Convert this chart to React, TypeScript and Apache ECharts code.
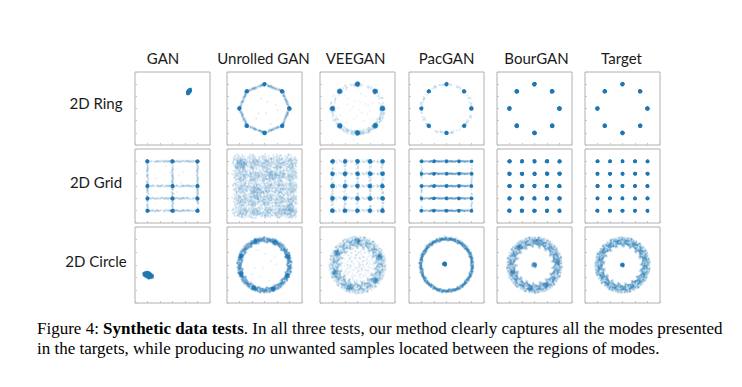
import React, { useEffect, useRef } from "react";
import * as echarts from "echarts";

// ---------- data ----------
const COLUMNS = ["GAN", "Unrolled GAN", "VEEGAN", "PacGAN", "BourGAN", "Target"];
const ROWS = ["2D Ring", "2D Grid", "2D Circle"];
const RING_ANGLES = [0, 45, 90, 135, 180, 225, 270, 315];
const GRID_LEVELS = [-1, -0.5, 0, 0.5, 1];
const GAN_GRID_COLS = [-1, 0, 1];
const GAN_GRID_ROWS = [1, 0, -0.5, -1];
const CIRCLE_ANGLES = [0, 5, 10, 15, 20, 25, 30, 35, 40, 45, 50, 55, 60, 65, 70, 75, 80, 85, 90, 95, 100, 105, 110, 115, 120, 125, 130, 135, 140, 145, 150, 155, 160, 165, 170, 175, 180, 185, 190, 195, 200, 205, 210, 215, 220, 225, 230, 235, 240, 245, 250, 255, 260, 265, 270, 275, 280, 285, 290, 295, 300, 305, 310, 315, 320, 325, 330, 335, 340, 345, 350, 355];
const VEEGAN_ARC_COUNTS = [16, 12, 12, 10, 20, 40, 48, 40];
const UNROLLED_CLUMPS = [20, 65, 110, 160, 200, 245, 290, 335];
const VEEGAN_CLUMPS = [90, 150, 200, 250, 320, 20];
const BOUR_CLUMPS = [80, 130, 200, 260, 300, 10];
// hand-typed sample offsets (unit square)
const JITTER: number[][] = [
  [0.12, -0.48], [-0.83, 0.31], [0.45, 0.92], [-0.27, -0.66], [0.71, 0.05], [-0.55, -0.18], [0.03, 0.61], [0.94, -0.37],
  [-0.39, 0.84], [0.26, -0.91], [-0.72, -0.52], [0.58, 0.43], [-0.08, -0.15], [0.37, 0.22], [-0.96, 0.02], [0.81, -0.74],
  [-0.14, 0.39], [0.49, -0.29], [-0.61, 0.67], [0.18, 0.76], [-0.33, -0.97], [0.67, -0.58], [-0.87, -0.34], [0.09, -0.07],
  [0.53, 0.14], [-0.46, 0.51], [0.31, -0.63], [-0.21, 0.08], [0.88, 0.57], [-0.69, -0.82], [0.15, 0.33], [-0.04, -0.41],
  [0.62, -0.12], [-0.51, 0.19], [0.22, -0.23], [-0.77, 0.71], [0.41, 0.64], [-0.19, -0.53], [0.76, 0.27], [-0.35, -0.09],
  [0.05, 0.97], [-0.58, -0.72], [0.97, -0.19], [-0.11, 0.55], [0.34, -0.85], [-0.91, -0.6], [0.59, 0.81], [-0.42, 0.36],
  [0.19, 0.03], [-0.66, -0.27], [0.44, -0.44], [-0.25, 0.9], [0.83, 0.39], [-0.02, -0.78], [0.28, 0.47], [-0.8, 0.12],
  [0.07, -0.31], [-0.48, -0.42], [0.65, 0.7], [-0.3, 0.26], [0.39, -0.02], [-0.16, -0.25], [0.73, -0.88], [-0.62, 0.45],
];

// ---------- layout ----------
const COL_LEFT = [135, 227, 320, 409, 497, 585];
const PANEL_W = 75;
const ROW_TOP = [72, 149, 227];
const PANEL_H = [73, 74, 76];
const HEADER_X = [163, 263.5, 355.5, 446.5, 536.5, 621.5];
const ROW_LABEL_Y = [103, 182, 261];
const BLUE = "#1f77b4";

type Pt = number[];
const DISC = JITTER.filter(([a, b]) => a * a + b * b <= 1);
const rad = (d: number) => (d * Math.PI) / 180;

function blob(cx: number, cy: number, sx: number, sy: number, n: number, off = 0, rot = 0): Pt[] {
  const out: Pt[] = [];
  const c = Math.cos(rad(rot)), s = Math.sin(rad(rot));
  const L = DISC.length;
  for (let i = 0; i < Math.min(n, L); i++) {
    const [a, b] = DISC[(off + i) % L];
    const u = a * sx, v = b * sy;
    out.push([cx + u * c - v * s, cy + u * s + v * c]);
  }
  return out;
}
function seg(p: Pt, q: Pt, n: number, spread: number, off = 0): Pt[] {
  const out: Pt[] = [];
  const dx = q[0] - p[0], dy = q[1] - p[1];
  const len = Math.hypot(dx, dy) || 1;
  const nx = -dy / len, ny = dx / len;
  for (let i = 0; i < Math.min(n, 64); i++) {
    const [a, b] = JITTER[(off + i * 5) % 64];
    const t = (a + 1) / 2;
    out.push([p[0] + t * dx + nx * b * spread, p[1] + t * dy + ny * b * spread]);
  }
  return out;
}
function arc(r: number, a0: number, a1: number, n: number, spread: number, off = 0): Pt[] {
  const out: Pt[] = [];
  for (let i = 0; i < Math.min(n, 64); i++) {
    const [a, b] = JITTER[(off + i * 5) % 64];
    const ang = rad(a0 + ((a + 1) / 2) * (a1 - a0));
    const rr = r + b * spread;
    out.push([rr * Math.cos(ang), rr * Math.sin(ang)]);
  }
  return out;
}
function ring(r: number, spread: number, nPer: number, off = 0): Pt[] {
  const out: Pt[] = [];
  CIRCLE_ANGLES.forEach((th, k) => {
    for (let i = 0; i < nPer; i++) {
      const idx = (off + k * 11 + i * 5) % 64;
      const [a, b] = JITTER[idx];
      const d = JITTER[(idx + 29) % 64][1];
      const ang = rad(th + a * 2.5);
      const rr = r + ((b + d) / 2) * spread;
      out.push([rr * Math.cos(ang), rr * Math.sin(ang)]);
    }
  });
  return out;
}
const ringModes = RING_ANGLES.map((a) => [Math.cos(rad(a)), Math.sin(rad(a))]);
const gridModes: Pt[] = [];
GRID_LEVELS.forEach((y) => GRID_LEVELS.forEach((x) => gridModes.push([x, y])));
const polar = (r: number, a: number): Pt => [r * Math.cos(rad(a)), r * Math.sin(rad(a))];

type Layer = { pts: Pt[]; size: number; op: number };
const flat = (arr: Pt[][]) => ([] as Pt[]).concat(...arr);

function panels(): Layer[][] {
  const P: Layer[][] = [];
  // Row 1: ring
  P.push([
    { pts: [...blob(0.66, 0.7, 0.13, 0.06, 48, 0, 60), ...blob(0.66, 0.7, 0.09, 0.04, 30, 7, 60)], size: 2.5, op: 0.7 },
  ]);
  P.push([
    { pts: flat(ringModes.map((m, k) => seg(m, ringModes[(k + 1) % 8], 44, 0.04, k * 9))), size: 2, op: 0.16 },
    { pts: blob(0.1, -0.1, 0.6, 0.6, 8, 3), size: 2, op: 0.12 },
    { pts: flat(ringModes.map((m, k) => blob(m[0], m[1], 0.05, 0.05, 20, k * 5, k * 40))), size: 2.5, op: 0.6 },
  ]);
  P.push([
    { pts: flat(RING_ANGLES.map((a, k) => arc(1, a, a + 45, VEEGAN_ARC_COUNTS[k], 0.1, k * 7))), size: 2, op: 0.15 },
    { pts: blob(0, 0, 0.8, 0.8, 24, 11), size: 2, op: 0.08 },
    { pts: flat(ringModes.map((m, k) => blob(m[0], m[1], 0.08, 0.08, 36, k * 5, k * 40))), size: 2.5, op: 0.35 },
  ]);
  P.push([
    { pts: flat(RING_ANGLES.map((a, k) => arc(1, a, a + 45, 12, 0.05, k * 7))), size: 2, op: 0.15 },
    { pts: flat(ringModes.map((m, k) => blob(m[0], m[1], 0.045, 0.045, 20, k * 5, k * 40))), size: 2.5, op: 0.6 },
  ]);
  P.push([{ pts: flat(ringModes.map((m, k) => blob(m[0], m[1], 0.04, 0.04, 20, k * 5, k * 40))), size: 3, op: 0.7 }]);
  P.push([{ pts: flat(ringModes.map((m, k) => blob(m[0], m[1], 0.035, 0.035, 20, k * 5, k * 40))), size: 3, op: 0.7 }]);
  // Row 2: grid
  const ganInter: Pt[] = [];
  GAN_GRID_ROWS.forEach((y) => GAN_GRID_COLS.forEach((x) => ganInter.push([x, y])));
  P.push([
    {
      pts: [
        ...flat(GAN_GRID_COLS.map((x, k) => seg([x, -1], [x, 1], 56, 0.03, k * 3))),
        ...flat(GAN_GRID_ROWS.map((y, k) => seg([-1, y], [1, y], 56, 0.03, k * 4 + 1))),
      ],
      size: 2, op: 0.18,
    },
    { pts: blob(0, 0.3, 0.7, 0.6, 10, 5), size: 2, op: 0.1 },
    { pts: flat(ganInter.map((m, k) => blob(m[0], m[1], 0.045, 0.045, 16, k * 3, k * 30))), size: 2.5, op: 0.6 },
  ]);
  P.push([
    { pts: flat(gridModes.map((m, k) => blob(m[0], m[1], 0.3, 0.3, 48, k * 7, k * 37))), size: 2, op: 0.17 },
    { pts: flat(gridModes.map((m, k) => blob(m[0] + 0.12, m[1] - 0.1, 0.22, 0.22, 30, k * 5 + 3, k * 53))), size: 2, op: 0.12 },
    {
      pts: [...blob(-0.95, 0.85, 0.22, 0.22, 40, 3, 10), ...blob(0.95, -0.95, 0.22, 0.22, 40, 9, 50), ...blob(-0.3, -0.3, 0.22, 0.22, 30, 17, 80), ...blob(0.3, 0.4, 0.2, 0.2, 24, 21, 20)],
      size: 2, op: 0.18,
    },
  ]);
  const vegSegs: Pt[][] = [];
  GRID_LEVELS.forEach((v, i) => {
    for (let j = 0; j < 4; j++) {
      vegSegs.push(seg([GRID_LEVELS[j], v], [GRID_LEVELS[j + 1], v], 10, 0.05, i * 5 + j * 3));
      vegSegs.push(seg([v, GRID_LEVELS[j]], [v, GRID_LEVELS[j + 1]], 10, 0.05, i * 7 + j * 2 + 1));
    }
  });
  P.push([
    { pts: flat(vegSegs), size: 2, op: 0.13 },
    { pts: flat(gridModes.map((m, k) => blob(m[0], m[1], 0.06, 0.06, 24, k * 3, k * 30))), size: 2.5, op: 0.4 },
  ]);
  P.push([
    { pts: flat(GRID_LEVELS.map((y, k) => [...seg([-1, y], [1, y], 64, 0.025, k * 3), ...seg([-1, y], [1, y], 40, 0.02, k * 5 + 2)])), size: 2, op: 0.22 },
    { pts: [...seg([-1, -1], [-1, 1], 30, 0.03, 1), ...seg([1, -1], [1, 1], 30, 0.03, 4)], size: 2, op: 0.15 },
    { pts: flat(gridModes.map((m, k) => blob(m[0], m[1], 0.04, 0.04, 14, k * 3, k * 30))), size: 2.5, op: 0.4 },
  ]);
  P.push([{ pts: flat(gridModes.map((m, k) => blob(m[0], m[1], 0.045, 0.045, 20, k * 3, k * 30))), size: 2.5, op: 0.7 }]);
  P.push([{ pts: flat(gridModes.map((m, k) => blob(m[0], m[1], 0.035, 0.035, 20, k * 3, k * 30))), size: 2.5, op: 0.7 }]);
  // Row 3: circle
  P.push([
    { pts: [...blob(-0.97, -0.4, 0.2, 0.11, 48, 0, -20), ...blob(-0.97, -0.4, 0.15, 0.08, 40, 13, -20)], size: 3, op: 0.7 },
  ]);
  P.push([
    { pts: ring(1.0, 0.14, 14, 0), size: 2, op: 0.22 },
    { pts: flat(UNROLLED_CLUMPS.map((a, k) => { const p = polar(1.0, a); return blob(p[0], p[1], 0.09, 0.09, 24, k * 5, k * 40); })), size: 2, op: 0.3 },
    { pts: blob(0, 0, 0.7, 0.7, 10, 2), size: 2, op: 0.1 },
  ]);
  P.push([
    { pts: ring(0.92, 0.3, 16, 3), size: 2, op: 0.15 },
    { pts: [...blob(0, 0, 0.75, 0.75, 50, 0, 0), ...blob(0, 0, 0.7, 0.7, 50, 5, 40), ...blob(0, 0, 0.72, 0.72, 50, 9, 80)], size: 2, op: 0.1 },
    { pts: flat(VEEGAN_CLUMPS.map((a, k) => { const p = polar(0.95, a); return blob(p[0], p[1], 0.12, 0.12, 30, k * 5, k * 40); })), size: 2, op: 0.2 },
  ]);
  P.push([
    { pts: ring(1.03, 0.08, 10, 5), size: 2, op: 0.25 },
    { pts: arc(1.05, 10, 170, 64, 0.1, 3), size: 2, op: 0.15 },
    { pts: blob(-0.07, 0.04, 0.06, 0.06, 30, 0), size: 2.5, op: 0.7 },
  ]);
  P.push([
    { pts: ring(0.93, 0.26, 18, 7), size: 2, op: 0.18 },
    { pts: flat(BOUR_CLUMPS.map((a, k) => { const p = polar(0.93, a); return blob(p[0], p[1], 0.12, 0.12, 24, k * 5, k * 40); })), size: 2, op: 0.18 },
    { pts: blob(0, 0, 0.1, 0.1, 30, 0), size: 2, op: 0.3 },
  ]);
  P.push([
    { pts: ring(0.93, 0.24, 18, 9), size: 2, op: 0.2 },
    { pts: blob(0, 0, 0.07, 0.07, 30, 0), size: 2, op: 0.4 },
  ]);
  return P;
}

function buildOption() {
  const grids: any[] = [], xAxes: any[] = [], yAxes: any[] = [], series: any[] = [];
  const P = panels();
  for (let r = 0; r < 3; r++) {
    for (let c = 0; c < 6; c++) {
      const i = r * 6 + c;
      grids.push({ left: COL_LEFT[c], top: ROW_TOP[r], width: PANEL_W, height: PANEL_H[r], show: true, borderColor: "#b0b0b0", borderWidth: 1, backgroundColor: "#fff", containLabel: false });
      const ax = {
        gridIndex: i, type: "value", min: -1.5, max: 1.5, interval: 0.5,
        axisLine: { show: false, onZero: false }, axisLabel: { show: false }, splitLine: { show: false },
        axisTick: { show: true, inside: true, length: 2, lineStyle: { color: "#c4c4c4" } },
      };
      xAxes.push({ ...ax, position: "bottom" });
      yAxes.push({ ...ax, position: "left" });
      P[i].forEach((layer) => {
        series.push({
          type: "scatter", xAxisIndex: i, yAxisIndex: i, data: layer.pts, symbol: "circle",
          symbolSize: layer.size, silent: true, progressive: 0, large: false,
          itemStyle: { color: BLUE, opacity: layer.op },
        });
      });
    }
  }
  const graphic: any[] = [];
  COLUMNS.forEach((t, c) => graphic.push({ type: "text", x: HEADER_X[c], y: 58, style: { text: t, fill: "#1a1a1a", fontFamily: "Lato", fontSize: 15, textAlign: "center", textVerticalAlign: "middle" } }));
  ROWS.forEach((t, r) => graphic.push({ type: "text", x: 96, y: ROW_LABEL_Y[r], style: { text: t, fill: "#1a1a1a", fontFamily: "Lato", fontSize: 15, textAlign: "center", textVerticalAlign: "middle" } }));
  const rich = {
    n: { fontFamily: "Liberation Serif", fontSize: 17, fill: "#000" },
    b: { fontFamily: "Liberation Serif", fontSize: 17, fontWeight: "bold", fill: "#000" },
    i: { fontFamily: "Liberation Serif", fontSize: 17, fontStyle: "italic", fill: "#000" },
  };
  graphic.push({ type: "text", x: 37, y: 328, style: { text: "{n|Figure 4: }{b|Synthetic data tests}{n|. In all three tests, our method clearly captures all the modes presented}", rich, textAlign: "left", textVerticalAlign: "middle" } });
  graphic.push({ type: "text", x: 37, y: 348, style: { text: "{n|in the targets, while producing }{i|no}{n| unwanted samples located between the regions of modes.}", rich, textAlign: "left", textVerticalAlign: "middle" } });
  return { animation: false, backgroundColor: "#fff", grid: grids, xAxis: xAxes, yAxis: yAxes, series, graphic };
}

export default function App() {
  const ref = useRef<HTMLDivElement>(null);
  useEffect(() => {
    const chart = echarts.init(ref.current!, null, { renderer: "svg" });
    chart.setOption(buildOption());
    return () => chart.dispose();
  }, []);
  return <div ref={ref} style={{ position: "absolute", left: 0, top: 0, width: 742, height: 387, background: "#fff" }} />;
}
